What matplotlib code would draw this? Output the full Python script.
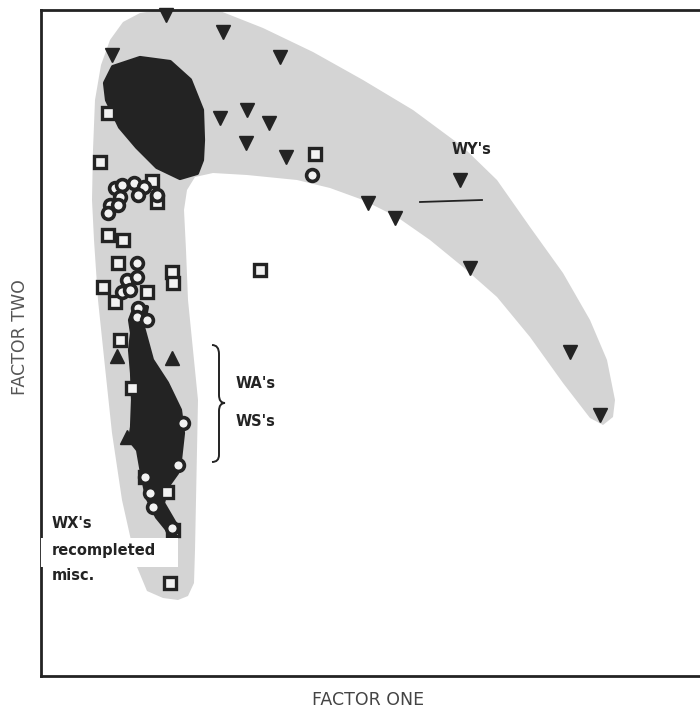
import matplotlib

matplotlib.use("Agg")
import matplotlib.pyplot as plt  # noqa: E402
from matplotlib.patches import Polygon, PathPatch, Rectangle  # noqa: E402
from matplotlib.path import Path  # noqa: E402

# factor-space outline of the shaded "boomerang" envelope
envelope_x = [122, 106, 96, 81, 71, 64, 57, 53, 51, 52, 54, 60, 69, 82, 99, 119,
              179, 222, 272, 322, 372, 422, 456, 489, 522, 549, 566, 574, 572,
              562, 549, 522, 489, 456, 422, 389, 356, 322, 289, 256, 206, 172,
              154, 146, 143, 145, 147, 152, 157, 156, 155, 154, 153, 147, 137]
envelope_y = [78, 85, 109, 176, 243, 309, 376, 436, 476, 526, 576, 611, 636,
              654, 663, 666, 665, 648, 624, 596, 566, 529, 496, 449, 403, 356,
              316, 276, 259, 251, 258, 293, 339, 379, 409, 436, 459, 476, 488,
              496, 501, 503, 499, 486, 466, 426, 376, 326, 276, 226, 176, 126,
              93, 80, 76]

# dense clusters (too many overlapping points to resolve)
cluster_top_x = [72, 99, 129, 149, 161, 162, 161, 156, 139, 116, 96, 79, 66, 64]
cluster_top_y = [609, 618, 614, 596, 566, 536, 516, 503, 498, 509, 529, 549, 576, 593]
cluster_low_x = [94, 106, 102, 111, 126, 139, 142, 139, 136, 126, 122, 136, 129,
                 116, 106, 101, 97, 89, 91, 92, 91, 89, 91, 89]
cluster_low_y = [369, 369, 349, 316, 293, 266, 243, 216, 203, 189, 173, 149, 143,
                 159, 179, 203, 226, 236, 249, 276, 303, 326, 343, 356]

# WY's (inverted triangles)
wy_x = [125, 71, 182, 239, 206, 179, 228, 205, 245, 327, 354, 419, 429, 529, 559]
wy_y = [661, 621, 644, 619, 566, 558, 553, 533, 519, 473, 458, 496, 408, 324, 261]

# WA's / WS's (triangles)
wa_x = [76, 131, 86]
wa_y = [320, 318, 239]

# squares
sq_x = [67, 59, 274, 67, 82, 77, 131, 132, 219, 62, 106, 74, 79, 91, 111, 104,
        126, 132, 129, 116]
sq_y = [563, 514, 522, 441, 436, 413, 404, 393, 406, 389, 384, 374, 336, 288,
        495, 199, 184, 146, 93, 474]

# circles
ci_x = [271, 74, 81, 93, 103, 97, 116, 79, 69, 77, 67, 96, 86, 96, 81, 89, 97,
        96, 106, 142, 137, 104, 109, 112, 131]
ci_y = [501, 488, 491, 493, 489, 481, 481, 479, 471, 471, 463, 413, 396, 399,
        384, 386, 368, 359, 356, 253, 211, 199, 183, 169, 148]

ink = "#232323"
fig = plt.figure(figsize=(7.0, 7.13), dpi=100)
ax = fig.add_axes([41 / 700, 37 / 713, 660 / 700, 666 / 713])
ax.set_xlim(0, 660)
ax.set_ylim(0, 666)
ax.set_xticks([])
ax.set_yticks([])
for side in ("left", "top", "bottom"):
    ax.spines[side].set_linewidth(2.0)
    ax.spines[side].set_color(ink)
ax.spines["right"].set_visible(False)

ax.add_patch(Polygon(list(zip(envelope_x, envelope_y)), closed=True,
                     facecolor="#d4d4d4", edgecolor="none", zorder=1))
for cx, cy in ((cluster_top_x, cluster_top_y), (cluster_low_x, cluster_low_y)):
    ax.add_patch(Polygon(list(zip(cx, cy)), closed=True, facecolor=ink,
                         edgecolor=ink, lw=3, joinstyle="round", zorder=2))

ax.plot(wy_x, wy_y, "v", ms=10, color=ink, mec=ink, ls="none", zorder=3,
        clip_on=False)
ax.plot(wa_x, wa_y, "^", ms=10, color=ink, mec=ink, ls="none", zorder=3)
ax.plot(sq_x, sq_y, "s", ms=8, mfc="#f2f2f2", mec=ink, mew=2.4, ls="none",
        zorder=4)
ax.plot(ci_x, ci_y, "o", ms=8.5, mfc="#f2f2f2", mec=ink, mew=2.6, ls="none",
        zorder=4)

# stray pen stroke near the WY label
ax.plot([379, 441], [474, 476], color=ink, lw=1.3, zorder=3)

bold = dict(fontweight="bold", fontsize=10.5, color=ink, family="DejaVu Sans")
ax.text(431, 526, "WY's", ha="center", va="center", **bold)
ax.text(195, 293, "WA's", ha="left", va="center", **bold)
ax.text(195, 254, "WS's", ha="left", va="center", **bold)

# white label patch cut out of the envelope behind the WX text
ax.add_patch(Rectangle((0, 109), 137, 29, facecolor="white", edgecolor="none",
                       zorder=5))
ax.text(11, 152, "WX's", ha="left", va="center", zorder=6, **bold)
ax.text(11, 126, "recompleted", ha="left", va="center", zorder=6, **bold)
ax.text(11, 101, "misc.", ha="left", va="center", zorder=6, **bold)

# curly brace grouping WA's and WS's
brace = Path([(171, 331), (178, 331), (178, 322), (178, 281), (178, 273),
              (184, 273), (178, 273), (178, 265), (178, 221), (178, 214),
              (171, 214)],
             [Path.MOVETO, Path.CURVE3, Path.CURVE3, Path.LINETO, Path.CURVE3,
              Path.CURVE3, Path.CURVE3, Path.CURVE3, Path.LINETO, Path.CURVE3,
              Path.CURVE3])
ax.add_patch(PathPatch(brace, facecolor="none", edgecolor=ink, lw=1.4, zorder=3))

fig.text(368 / 700, 1 - 700 / 713, "FACTOR ONE", ha="center", va="center",
         fontsize=12.5, color="#444444")
fig.text(20 / 700, 1 - 337 / 713, "FACTOR TWO", ha="center", va="center",
         rotation=90, fontsize=12.5, color="#555555")

fig.savefig("out.png", dpi=100)
